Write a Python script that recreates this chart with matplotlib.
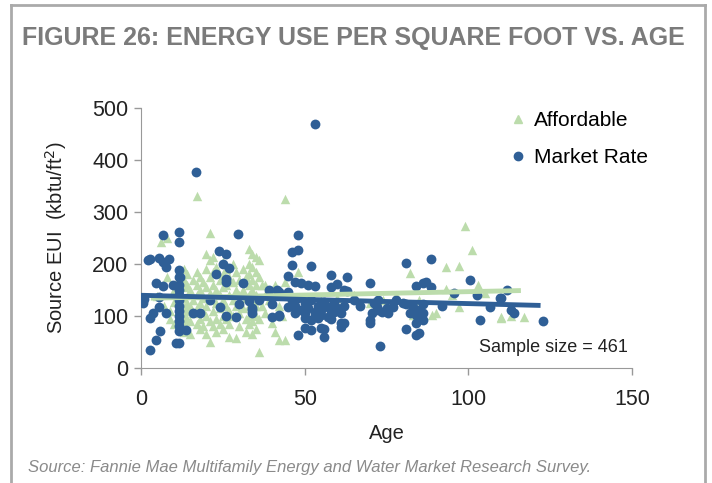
import numpy as np
import matplotlib.pyplot as plt
from matplotlib.lines import Line2D

# values (age in years, source EUI in kbtu/ft2)
afford_age = [5, 6, 7, 8, 8, 9, 9, 10, 10, 10,
              11, 12, 12, 13, 13, 13, 13, 13, 13, 13, 13, 14, 14, 14, 14, 14, 14, 15, 15, 15, 15, 15,
              16, 16, 16, 17, 17, 17, 17, 17, 17, 18, 18, 18, 18, 18, 19, 19, 19, 19, 20, 20, 20, 20, 20, 20,
              21, 21, 21, 21, 21, 21, 21, 22, 22, 22, 22, 22, 23, 23, 23, 23, 23, 24, 24, 24, 24,
              25, 25, 25, 25, 25, 25,
              26, 26, 26, 26, 27, 27, 27, 27, 27, 28, 28, 28, 28, 29, 29, 29, 29, 30, 30, 30, 30,
              31, 31, 31, 32, 32, 32, 32, 33, 33, 33, 33, 33, 33, 33, 33, 34, 34, 34, 34, 34, 34, 34, 34,
              35, 35, 35, 35, 35, 35, 35, 36, 36, 36, 36, 36,
              37, 37, 38, 38, 38, 39, 40, 40, 41, 41, 42, 42, 43, 44, 44, 44, 45, 48,
              50, 55, 60, 65, 70, 74, 78, 82, 83, 85, 89, 90, 93, 93, 95, 97, 97, 99, 101, 103, 105,
              110, 110, 113, 117]
afford_eui = [138, 243, 120, 251, 175, 110, 95, 150, 128, 85,
              165, 105, 145, 190, 170, 155, 135, 118, 100, 85, 70, 180, 160, 125, 110, 95, 75, 150, 140, 120, 90, 65,
              170, 130, 105, 331, 185, 160, 140, 115, 85, 175, 150, 125, 95, 75, 165, 135, 110, 80, 220, 190, 155, 120, 100, 65,
              260, 208, 175, 145, 130, 90, 51, 214, 185, 160, 110, 80, 195, 150, 125, 95, 70, 170, 140, 115, 85,
              205, 180, 155, 130, 100, 75,
              190, 160, 120, 95, 175, 140, 110, 85, 60, 200, 165, 130, 100, 185, 150, 120, 57, 170, 140, 105, 80,
              190, 150, 115, 175, 135, 95, 70, 230, 200, 180, 160, 140, 120, 100, 85, 220, 195, 170, 150, 130, 110, 90, 65,
              214, 185, 160, 140, 120, 100, 75, 208, 175, 130, 95, 31,
              160, 120, 160, 140, 105, 130, 145, 86, 160, 70, 120, 54, 100, 166, 326, 54, 140, 185,
              120, 130, 135, 140, 125, 130, 140, 183, 102, 130, 102, 105, 194, 153, 140, 196, 118, 273, 227, 160, 145,
              99, 96, 101, 99]

market_age = [0.7, 1, 2, 2.7, 2.7, 2.7, 3.6, 4.6, 4.6, 5.6, 5.6, 5.6, 5.8, 6.6, 6.8, 6.8, 7.6, 7.6, 8.6, 9.7, 10.7,
              11.7, 11.7, 11.7, 11.7, 11.7, 11.7, 11.7, 11.7, 11.7, 11.7, 11.7, 11.7, 11.7, 11.7, 11.7, 12, 13.7,
              16, 16.8, 18, 21, 22.9, 23.9, 24, 25, 26, 27, 26, 26, 26, 29, 29.7, 30, 31, 33, 34, 34, 34, 36,
              39, 40, 40, 41.5, 42, 42, 42, 45, 45, 45, 46, 46, 47, 48, 48, 48, 49, 50, 50, 51, 52, 52, 52, 53,
              53.2, 54, 55, 56, 56, 57, 58, 58, 59, 60, 61, 61, 61, 62, 62, 63, 63,
              46, 47, 48, 49, 50, 51, 52, 53, 54, 55, 56, 57, 58, 59, 60, 62, 47, 50, 53, 55, 58,
              65, 67, 70, 70, 70, 70.5, 71, 72, 72.5, 72.5, 73, 73.5, 75, 75.5, 77, 78, 80, 81, 81, 81, 82, 83,
              84, 84, 84, 84, 85, 85, 86, 86, 86, 86, 87, 88.5, 88.5, 92, 95.5, 100.5, 102.5, 103.6, 106.6,
              109.7, 110, 111.7, 113, 114, 122.7]
market_eui = [126, 133, 207, 210, 96, 35, 106, 163, 54, 211, 137, 118, 71, 256, 204, 158, 195, 105, 210, 160, 49,
              262, 243, 188, 176, 160, 150, 140, 130, 120, 110, 100, 90, 80, 72, 49, 175, 74,
              106, 377, 106, 131, 181, 226, 118, 201, 219, 192, 172, 166, 100, 99, 257, 124, 163, 129, 115, 105, 111, 131,
              151, 124, 99, 150, 147, 102, 100, 177, 147, 118, 224, 198, 166, 256, 227, 63, 164, 96, 77, 160, 196, 92, 73, 158,
              469, 96, 77, 76, 60, 99, 179, 156, 108, 161, 87, 79, 105, 151, 86, 176, 148,
              130, 120, 135, 112, 125, 115, 130, 108, 120, 112, 128, 118, 110, 125, 115, 120, 105, 105, 100, 102, 95,
              130, 120, 164, 92, 86, 105, 125, 118, 131, 111, 42, 108, 115, 105, 118, 130, 125, 203, 124, 76, 105, 118,
              158, 102, 86, 63, 111, 67, 164, 124, 105, 92, 166, 210, 156, 119, 144, 169, 140, 92, 118,
              134, 134, 150, 111, 105, 91]

# linear trend lines (slope, intercept) and their age span
afford_trend = [0.13, 134.0]
afford_span = [3, 116]
market_trend = [-0.16, 140.0]
market_span = [0, 122]

blue = '#2f5f96'
green = '#bcdcac'
gray = '#7b7b7b'

plt.rcParams['font.family'] = ['Liberation Sans', 'DejaVu Sans']

fig = plt.figure(figsize=(7.12, 4.83), dpi=100)
ax = fig.add_axes([0.198, 0.238, 0.69, 0.538])

ax.scatter(afford_age, afford_eui, marker='^', s=46, color=green, linewidths=0, zorder=2)
ax.scatter(market_age, market_eui, marker='o', s=50, color=blue, linewidths=0, zorder=3)

xa = np.array(afford_span)
ax.plot(xa, np.polyval(afford_trend, xa), color=green, lw=3.5, zorder=4, solid_capstyle='butt')
xm = np.array(market_span)
ax.plot(xm, np.polyval(market_trend, xm), color=blue, lw=3.5, zorder=4, solid_capstyle='butt')

ax.set_xlim(0, 150)
ax.set_ylim(0, 500)
ax.set_xticks([0, 50, 100, 150])
ax.set_yticks([0, 100, 200, 300, 400, 500])
ax.tick_params(direction='out', length=5, width=1, color='#999999', labelsize=15.5, labelcolor='#222222')
ax.tick_params(axis='x', pad=10)
ax.tick_params(axis='y', pad=4)
for side in ['top', 'right']:
    ax.spines[side].set_visible(False)
for side in ['left', 'bottom']:
    ax.spines[side].set_color('#999999')
ax.set_xlabel('Age', fontsize=14.5, color='#222222', labelpad=10)
ax.set_ylabel('Source EUI  (kbtu/ft$^{2}$)', fontsize=14.5, color='#222222', labelpad=17)

handles = [Line2D([], [], marker='^', ls='', color=green, markersize=6),
           Line2D([], [], marker='o', ls='', color=blue, markersize=6)]
ax.legend(handles, ['Affordable', 'Market Rate'], loc='upper right', bbox_to_anchor=(1.07, 1.06),
          frameon=False, fontsize=15, handletextpad=0.15, labelspacing=0.85, handlelength=1.2)

ax.text(0.992, 0.08, 'Sample size = 461', transform=ax.transAxes, ha='right', va='center',
        fontsize=13, color='#222222')

fig.text(0.031, 0.921, 'FIGURE 26: ENERGY USE PER SQUARE FOOT VS. AGE', fontsize=18,
         fontweight='bold', color=gray, family=['Liberation Sans Narrow', 'Liberation Sans'],
         ha='left', va='center')
fig.text(0.04, 0.033, 'Source: Fannie Mae Multifamily Energy and Water Market Research Survey.',
         fontsize=12, style='italic', color='#8a8a8a', ha='left', va='center')

# gray frame around the figure
frame = dict(color='#aaaaaa', lw=2, transform=fig.transFigure)
fig.add_artist(Line2D([0.015, 0.015], [0, 0.99], **frame))
fig.add_artist(Line2D([0.015, 0.99], [0.99, 0.99], **frame))
fig.add_artist(Line2D([0.99, 0.99], [0, 0.99], **frame))

fig.savefig('out.png', dpi=100)
